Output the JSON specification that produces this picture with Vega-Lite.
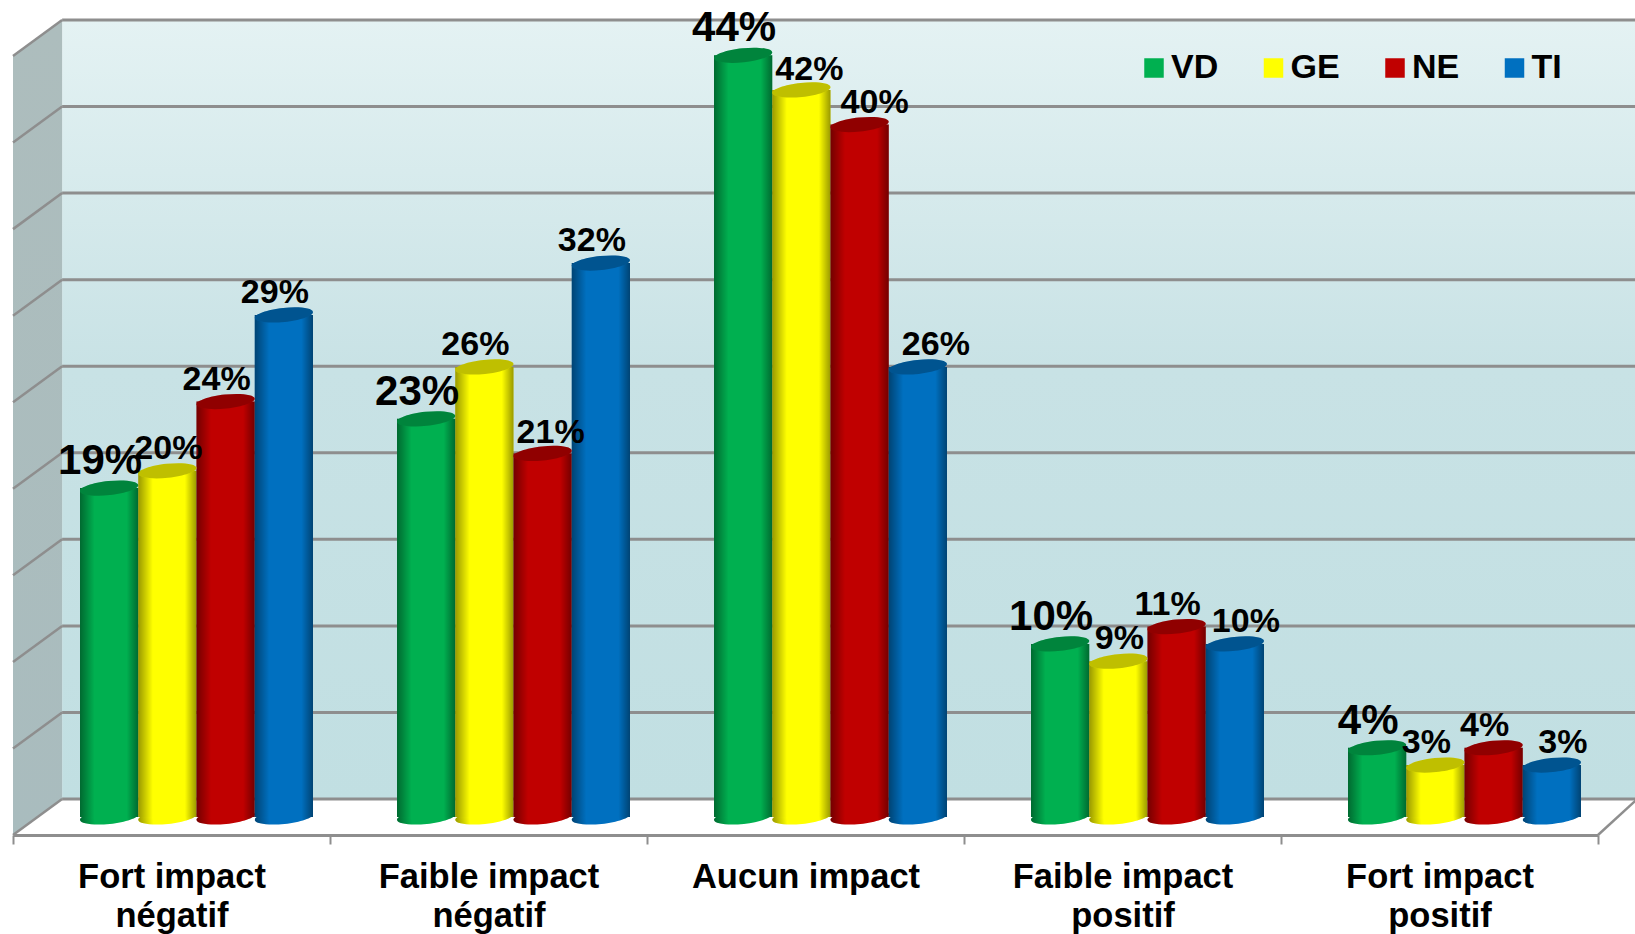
{
"$schema":"https://vega.github.io/schema/vega-lite/v6.json",
"width":1585,"height":835,
"autosize":{"type":"none"},
"padding":{"left":13,"top":0,"right":37,"bottom":99},
"background":"white",
"view":{"stroke":null},
"datasets":{
"scores":[
{"cat":"Fort impact négatif","series":"VD","value":19,"label":"19%"},
{"cat":"Fort impact négatif","series":"GE","value":20,"label":"20%"},
{"cat":"Fort impact négatif","series":"NE","value":24,"label":"24%"},
{"cat":"Fort impact négatif","series":"TI","value":29,"label":"29%"},
{"cat":"Faible impact négatif","series":"VD","value":23,"label":"23%"},
{"cat":"Faible impact négatif","series":"GE","value":26,"label":"26%"},
{"cat":"Faible impact négatif","series":"NE","value":21,"label":"21%"},
{"cat":"Faible impact négatif","series":"TI","value":32,"label":"32%"},
{"cat":"Aucun impact","series":"VD","value":44,"label":"44%"},
{"cat":"Aucun impact","series":"GE","value":42,"label":"42%"},
{"cat":"Aucun impact","series":"NE","value":40,"label":"40%"},
{"cat":"Aucun impact","series":"TI","value":26,"label":"26%"},
{"cat":"Faible impact positif","series":"VD","value":10,"label":"10%"},
{"cat":"Faible impact positif","series":"GE","value":9,"label":"9%"},
{"cat":"Faible impact positif","series":"NE","value":11,"label":"11%"},
{"cat":"Faible impact positif","series":"TI","value":10,"label":"10%"},
{"cat":"Fort impact positif","series":"VD","value":4,"label":"4%"},
{"cat":"Fort impact positif","series":"GE","value":3,"label":"3%"},
{"cat":"Fort impact positif","series":"NE","value":4,"label":"4%"},
{"cat":"Fort impact positif","series":"TI","value":3,"label":"3%"}
],
"grid":[{"level":0},{"level":5},{"level":10},{"level":15},{"level":20},{"level":25},{"level":30},{"level":35},{"level":40},{"level":45}],
"side":[{"depth":0,"low":-2.08,"high":42.92},{"depth":0.155,"low":0,"high":45}],
"slants":[
{"line":"l0","depth":0,"level":-2.08},{"line":"l0","depth":0.155,"level":0},
{"line":"l5","depth":0,"level":2.92},{"line":"l5","depth":0.155,"level":5},
{"line":"l10","depth":0,"level":7.92},{"line":"l10","depth":0.155,"level":10},
{"line":"l15","depth":0,"level":12.92},{"line":"l15","depth":0.155,"level":15},
{"line":"l20","depth":0,"level":17.92},{"line":"l20","depth":0.155,"level":20},
{"line":"l25","depth":0,"level":22.92},{"line":"l25","depth":0.155,"level":25},
{"line":"l30","depth":0,"level":27.92},{"line":"l30","depth":0.155,"level":30},
{"line":"l35","depth":0,"level":32.92},{"line":"l35","depth":0.155,"level":35},
{"line":"l40","depth":0,"level":37.92},{"line":"l40","depth":0.155,"level":40},
{"line":"l45","depth":0,"level":42.92},{"line":"l45","depth":0.155,"level":45},
{"line":"r0","depth":5,"level":-2.08},{"line":"r0","depth":5.16,"level":0.6}
]
},
"resolve":{"scale":{"x":"independent","y":"independent"}},
"layer":[
{
"data":{"values":[{"wall":"back"}]},
"mark":{"type":"rect","fill":{"gradient":"linear","x1":0,"y1":0,"x2":0,"y2":1,"stops":[{"offset":0,"color":"#e4f2f3"},{"offset":0.45,"color":"#c8e2e5"},{"offset":1,"color":"#c1dfe2"}]}},
"encoding":{
"x":{"datum":0.155,"type":"quantitative","axis":null,"scale":{"domain":[0,5],"range":[0,1585],"nice":false,"zero":false}},
"x2":{"datum":5.17},
"y":{"datum":0,"type":"quantitative","axis":null,"scale":{"domain":[0,45],"range":[799,20],"nice":false,"zero":false}},
"y2":{"datum":45}
}
},
{
"data":{"name":"side"},
"mark":{"type":"area","fill":{"gradient":"linear","x1":0,"y1":0,"x2":0,"y2":1,"stops":[{"offset":0,"color":"#adbdbd"},{"offset":1,"color":"#a9bcbe"}]}},
"encoding":{
"x":{"field":"depth","type":"quantitative","axis":null,"scale":{"domain":[0,5],"range":[0,1585],"nice":false,"zero":false}},
"y":{"field":"low","type":"quantitative","axis":null,"scale":{"domain":[0,45],"range":[799,20],"nice":false,"zero":false}},
"y2":{"field":"high"}
}
},
{
"data":{"name":"grid"},
"mark":{"type":"rule","color":"#8e8e8e","strokeWidth":3},
"encoding":{
"x":{"datum":0.155,"type":"quantitative","axis":null,"scale":{"domain":[0,5],"range":[0,1585],"nice":false,"zero":false}},
"x2":{"datum":5.17},
"y":{"field":"level","type":"quantitative","axis":null,"scale":{"domain":[0,45],"range":[799,20],"nice":false,"zero":false}}
}
},
{
"data":{"name":"slants"},
"mark":{"type":"line","color":"#8e8e8e","strokeWidth":2.5},
"encoding":{
"x":{"field":"depth","type":"quantitative","axis":null,"scale":{"domain":[0,5],"range":[0,1585],"nice":false,"zero":false}},
"y":{"field":"level","type":"quantitative","axis":null,"scale":{"domain":[0,45],"range":[799,20],"nice":false,"zero":false}},
"detail":{"field":"line"}
}
},
{
"data":{"name":"scores"},
"mark":{"type":"rule","opacity":0},
"encoding":{
"x":{"field":"cat","type":"nominal","sort":null,
"scale":{"domain":["Fort impact négatif","Faible impact négatif","Aucun impact","Faible impact positif","Fort impact positif"],"range":[0,1585],"paddingInner":0,"paddingOuter":0},
"axis":{"title":null,"orient":"bottom","labelAngle":0,"tickBand":"extent","domainColor":"#8e8e8e","domainWidth":3,"tickColor":"#8e8e8e","tickWidth":2,"tickSize":9,"labelFont":"Liberation Sans","labelFontWeight":"bold","labelFontSize":34.5,"labelColor":"#000000","labelPadding":16,"labelLineHeight":39,"labelBaseline":"top","labelOverlap":false,"labelLimit":400,
"labelExpr":"indexof(datum.label,'Aucun')==0 ? datum.label : [slice(datum.label,0,lastindexof(datum.label,' ')),slice(datum.label,lastindexof(datum.label,' ')+1)]"}},
"y":{"datum":0,"type":"quantitative","axis":null,"scale":{"domain":[0,45],"range":[799,20],"nice":false,"zero":false}}
}
},
{
"data":{"name":"scores"},
"encoding":{
"x":{"field":"cat","type":"nominal","axis":null,"scale":{"domain":["Fort impact négatif","Faible impact négatif","Aucun impact","Faible impact positif","Fort impact positif"],"range":[25,1610],"paddingInner":0.265,"paddingOuter":0.1325}},
"xOffset":{"field":"series","type":"nominal","scale":{"domain":["VD","GE","NE","TI"],"paddingInner":0,"paddingOuter":0}},
"y":{"field":"value","type":"quantitative","axis":null,"scale":{"domain":[0,45],"range":[817,38],"nice":false,"zero":false}},
"color":{"field":"series","type":"nominal","scale":{"domain":["VD","GE","NE","TI"],"range":["#00b050","#ffff00","#c00000","#0070c0"]},
"legend":{"title":null,"orient":"none","legendX":1124,"legendY":51,"direction":"horizontal","columns":4,"symbolType":"square","symbolSize":380,"symbolStrokeWidth":0,"labelFont":"Liberation Sans","labelFontWeight":"bold","labelFontSize":34,"labelColor":"#000000","labelOffset":0,"columnPadding":37.5,"padding":0}}
},
"layer":[
{
"mark":{"type":"point","filled":true,"opacity":1,"size":3420,"angle":-6,"shape":"M -1 0 C -1 -0.13 -0.55 -0.24 0 -0.24 C 0.55 -0.24 1 -0.13 1 0 C 1 0.13 0.55 0.24 0 0.24 C -0.55 0.24 -1 0.13 -1 0 Z"},
"encoding":{"y":{"datum":0,"type":"quantitative"}}
},
{
"mark":{"type":"point","filled":true,"opacity":1,"size":3420,"angle":-6,"shape":"M -1 0 C -1 -0.13 -0.55 -0.24 0 -0.24 C 0.55 -0.24 1 -0.13 1 0 C 1 0.13 0.55 0.24 0 0.24 C -0.55 0.24 -1 0.13 -1 0 Z"},
"encoding":{"y":{"datum":0,"type":"quantitative"},"color":{"value":null},"fill":{"value":{"gradient":"linear","x1":0,"y1":0,"x2":1,"y2":0,"stops":[{"offset":0,"color":"rgba(0,0,0,0.4)"},{"offset":0.25,"color":"rgba(0,0,0,0)"},{"offset":0.8,"color":"rgba(0,0,0,0)"},{"offset":1,"color":"rgba(0,0,0,0.4)"}]}}}
},
{
"mark":{"type":"bar"},
"encoding":{"y2":{"datum":0}}
},
{
"mark":{"type":"bar"},
"encoding":{"y2":{"datum":0},"color":{"value":{"gradient":"linear","x1":0,"y1":0,"x2":1,"y2":0,"stops":[{"offset":0,"color":"rgba(0,0,0,0.4)"},{"offset":0.25,"color":"rgba(0,0,0,0)"},{"offset":0.8,"color":"rgba(0,0,0,0)"},{"offset":1,"color":"rgba(0,0,0,0.4)"}]}}}
},
{
"mark":{"type":"point","filled":true,"opacity":1,"size":3420,"angle":-6,"shape":"M -1 0 C -1 -0.13 -0.55 -0.24 0 -0.24 C 0.55 -0.24 1 -0.13 1 0 C 1 0.13 0.55 0.24 0 0.24 C -0.55 0.24 -1 0.13 -1 0 Z"}
},
{
"mark":{"type":"point","filled":true,"opacity":0.25,"size":3420,"angle":-6,"shape":"M -1 0 C -1 -0.13 -0.55 -0.24 0 -0.24 C 0.55 -0.24 1 -0.13 1 0 C 1 0.13 0.55 0.24 0 0.24 C -0.55 0.24 -1 0.13 -1 0 Z"},
"encoding":{"color":{"value":"#000000"}}
},
{
"transform":[{"filter":"datum.series=='VD'"}],
"mark":{"type":"text","font":"Liberation Sans","fontWeight":"bold","fontSize":42,"dx":-9,"dy":-27,"baseline":"middle"},
"encoding":{"text":{"field":"label"},"color":{"value":"#000000"}}
},
{
"transform":[{"filter":"(datum.series=='NE' && (datum.cat=='Fort impact négatif' || datum.cat=='Faible impact positif' || datum.cat=='Fort impact positif')) || (datum.series=='TI' && (datum.cat=='Fort impact négatif' || datum.cat=='Faible impact négatif')) || (datum.series=='GE' && (datum.cat=='Faible impact négatif' || datum.cat=='Fort impact positif'))"}],
"mark":{"type":"text","font":"Liberation Sans","fontWeight":"bold","fontSize":34,"dx":-9,"dy":-22,"baseline":"middle"},
"encoding":{"text":{"field":"label"},"color":{"value":"#000000"}}
},
{
"transform":[{"filter":"datum.series=='GE' && (datum.cat=='Fort impact négatif' || datum.cat=='Faible impact positif')"}],
"mark":{"type":"text","font":"Liberation Sans","fontWeight":"bold","fontSize":34,"dx":1,"dy":-22,"baseline":"middle"},
"encoding":{"text":{"field":"label"},"color":{"value":"#000000"}}
},
{
"transform":[{"filter":"(datum.cat=='Aucun impact' && datum.series=='GE') || (datum.series=='NE' && datum.cat=='Faible impact négatif')"}],
"mark":{"type":"text","font":"Liberation Sans","fontWeight":"bold","fontSize":34,"dx":8,"dy":-20,"baseline":"middle"},
"encoding":{"text":{"field":"label"},"color":{"value":"#000000"}}
},
{
"transform":[{"filter":"datum.series=='TI' && (datum.cat=='Faible impact positif' || datum.cat=='Fort impact positif')"}],
"mark":{"type":"text","font":"Liberation Sans","fontWeight":"bold","fontSize":34,"dx":11,"dy":-22,"baseline":"middle"},
"encoding":{"text":{"field":"label"},"color":{"value":"#000000"}}
},
{
"transform":[{"filter":"datum.cat=='Aucun impact' && datum.series=='NE'"}],
"mark":{"type":"text","font":"Liberation Sans","fontWeight":"bold","fontSize":34,"dx":15,"dy":-22,"baseline":"middle"},
"encoding":{"text":{"field":"label"},"color":{"value":"#000000"}}
},
{
"transform":[{"filter":"datum.cat=='Aucun impact' && datum.series=='TI'"}],
"mark":{"type":"text","font":"Liberation Sans","fontWeight":"bold","fontSize":34,"dx":18,"dy":-22,"baseline":"middle"},
"encoding":{"text":{"field":"label"},"color":{"value":"#000000"}}
}
]
}
]
}
